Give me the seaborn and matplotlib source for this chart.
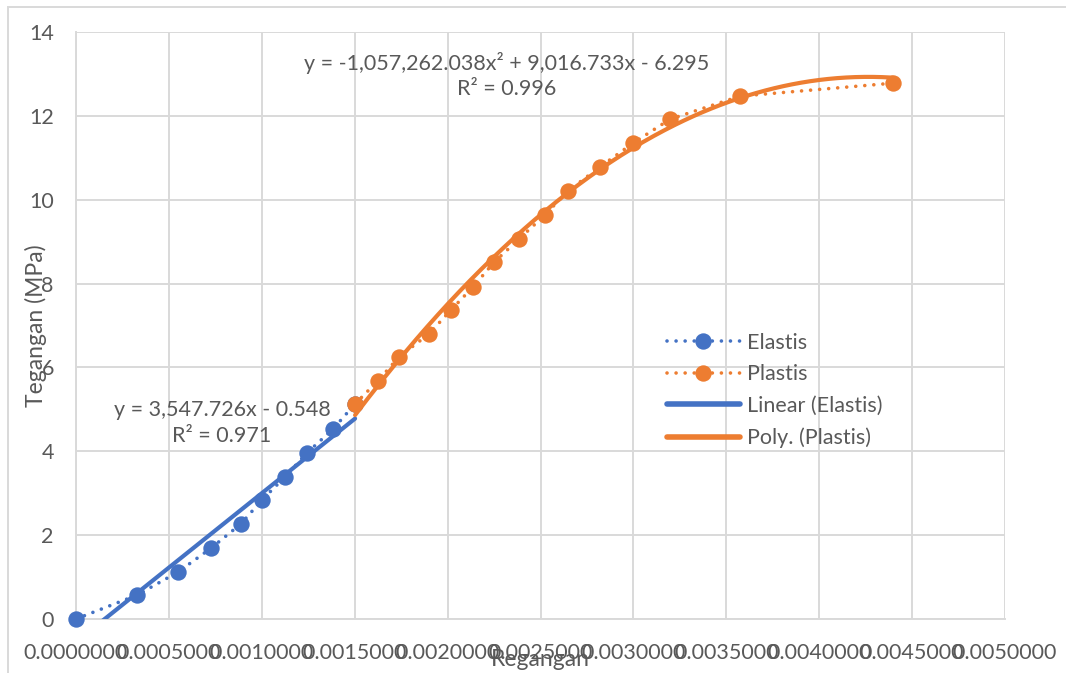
import numpy as np
import pandas as pd
import seaborn as sns
import matplotlib.pyplot as plt
from matplotlib.lines import Line2D
from matplotlib.patches import Rectangle
from matplotlib.ticker import FuncFormatter, MultipleLocator

# Measured strain (regangan) and stress (tegangan, MPa)
elastis_x = [0.0, 0.000328, 0.000549, 0.000727, 0.000888, 0.001001,
             0.001125, 0.001243, 0.001383, 0.001502]
elastis_y = [0.0, 0.57, 1.12, 1.69, 2.27, 2.84, 3.39, 3.96, 4.53, 5.13]

plastis_x = [0.001502, 0.001625, 0.001738, 0.001900, 0.002018, 0.002137,
             0.002250, 0.002384, 0.002524, 0.002648, 0.002820, 0.002998,
             0.003197, 0.003574, 0.004397]
plastis_y = [5.13, 5.68, 6.25, 6.80, 7.37, 7.92, 8.51, 9.06, 9.64, 10.21,
             10.78, 11.35, 11.92, 12.47, 12.78]

# Trendline coefficients
lin_coef = [3547.726, -0.548]               # slope, intercept
lin_r2 = 0.971
poly_coef = [-1057262.038, 9016.733, -6.295]  # x², x, const
poly_r2 = 0.996

series_labels = ["Elastis", "Plastis", "Linear (Elastis)", "Poly. (Plastis)"]
x_label = "Regangan"
y_label = "Tegangan (MPa)"

BLUE = "#4472C4"
ORANGE = "#ED7D31"
TEXT = "#595959"
GRID = "#D9D9D9"
FS = 15.5

sns.set_theme(style="white")
plt.rcParams["font.family"] = ["Lato", "DejaVu Sans"]

W, H = 1066, 673
fig = plt.figure(figsize=(W / 100, H / 100), dpi=100)
ax = fig.add_axes([76 / W, (H - 619) / H, (1005 - 76) / W, (619 - 32) / H])

df_e = pd.DataFrame({"x": elastis_x, "y": elastis_y})
df_p = pd.DataFrame({"x": plastis_x, "y": plastis_y})

dot = (0, (0.01, 2.5))
MS = 11.8
line_kw = dict(marker="o", markersize=MS, markeredgewidth=0, linewidth=2.6,
               linestyle=dot, dash_capstyle="round", sort=False,
               estimator=None, legend=False, clip_on=False)
sns.lineplot(data=df_e, x="x", y="y", color=BLUE, ax=ax, zorder=3, **line_kw)
sns.lineplot(data=df_p, x="x", y="y", color=ORANGE, ax=ax, zorder=3, **line_kw)

# Trendlines evaluated from the fitted equations over each data range
xl = np.linspace(min(elastis_x), max(elastis_x), 200)
yl = np.polyval(lin_coef, xl)
xp = np.linspace(min(plastis_x), max(plastis_x), 300)
yp = np.polyval(poly_coef, xp)
sns.lineplot(x=xl, y=yl, color=BLUE, linewidth=3.0, ax=ax, zorder=4,
             sort=False, estimator=None, legend=False)
sns.lineplot(x=xp, y=yp, color=ORANGE, linewidth=3.0, ax=ax, zorder=4,
             sort=False, estimator=None, legend=False)

ax.set_xlim(0, 0.005)
ax.set_ylim(0, 14)
ax.xaxis.set_major_locator(MultipleLocator(0.0005))
ax.yaxis.set_major_locator(MultipleLocator(2))
ax.xaxis.set_major_formatter(FuncFormatter(lambda v, p: f"{v:.7f}"))
ax.yaxis.set_major_formatter(FuncFormatter(lambda v, p: f"{v:.0f}"))
ax.tick_params(axis="both", length=0, colors=TEXT, labelsize=FS)
ax.tick_params(axis="x", pad=17)
ax.tick_params(axis="y", pad=16)
ax.grid(True, color=GRID, linewidth=1.4)
ax.set_axisbelow(True)
for side in ["top", "right"]:
    ax.spines[side].set_visible(False)
for side in ["left", "bottom"]:
    ax.spines[side].set_color(GRID)
    ax.spines[side].set_linewidth(1.4)

ax.set_xlabel(x_label, color=TEXT, fontsize=16.5)
ax.set_ylabel(y_label, color=TEXT, fontsize=16.5)
ax.xaxis.set_label_coords(0.5, -(660 - 619) / (619 - 32), transform=ax.transAxes)
ax.yaxis.set_label_coords(-(76 - 36) / (1005 - 76), 0.5, transform=ax.transAxes)
ax.xaxis.label.set_va("center")
ax.yaxis.label.set_va("center")

lin_txt = f"y = {lin_coef[0]:,.3f}x - {abs(lin_coef[1]):.3f}\nR² = {lin_r2:.3f}"
poly_txt = (f"y = {poly_coef[0]:,.3f}x² + {poly_coef[1]:,.3f}x - "
            f"{abs(poly_coef[2]):.3f}\nR² = {poly_r2:.3f}")
ax.text(0.000786, 4.67, lin_txt, ha="center", va="center", color=TEXT,
        fontsize=FS, linespacing=1.35, zorder=5)
ax.text(0.002315, 12.96, poly_txt, ha="center", va="center", color=TEXT,
        fontsize=FS, linespacing=1.35, zorder=5)

handles = [
    Line2D([], [], color=BLUE, marker="o", markersize=MS, markeredgewidth=0,
           linewidth=2.6, linestyle=dot, dash_capstyle="round"),
    Line2D([], [], color=ORANGE, marker="o", markersize=MS, markeredgewidth=0,
           linewidth=2.6, linestyle=dot, dash_capstyle="round"),
    Line2D([], [], color=BLUE, linewidth=4, solid_capstyle="round"),
    Line2D([], [], color=ORANGE, linewidth=4, solid_capstyle="round"),
]
leg = ax.legend(handles, series_labels, loc="upper left",
                bbox_to_anchor=(658 / W, (H - 324) / H),
                bbox_transform=fig.transFigure, frameon=False,
                fontsize=FS, handlelength=3.4, handletextpad=0.35,
                labelspacing=0.54, numpoints=1, borderaxespad=0)
for t in leg.get_texts():
    t.set_color(TEXT)

# Chart-area outline
fig.patches.append(Rectangle((8 / W, -0.05), 1.2, 1.05 - 7 / H,
                             transform=fig.transFigure, fill=False,
                             edgecolor=GRID, linewidth=1.4))

fig.savefig("out.png", dpi=100)
